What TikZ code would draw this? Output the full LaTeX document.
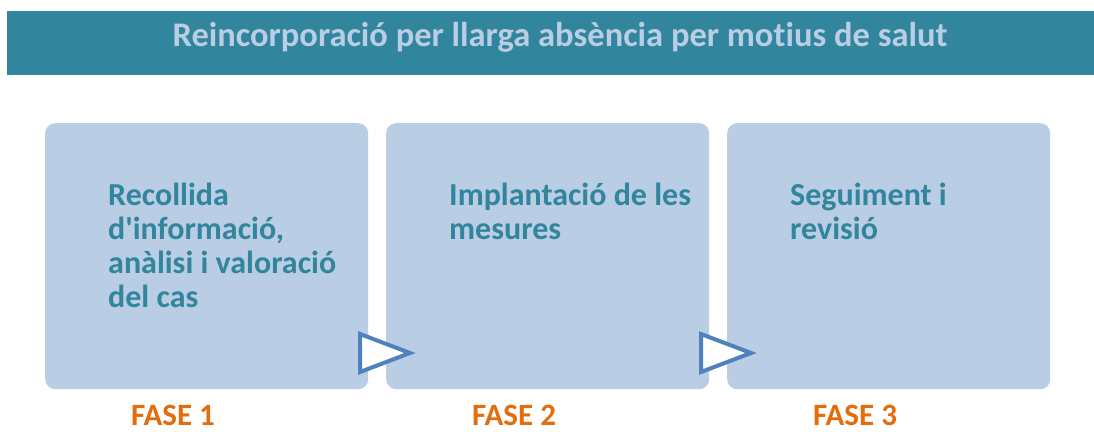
\documentclass[tikz,border=0pt]{standalone}
\usepackage{fontspec}
\setmainfont[Ligatures={NoCommon,TeXOff}]{Carlito}
\definecolor{teal}{HTML}{31859C}
\definecolor{titletext}{HTML}{B9CDE5}
\definecolor{boxfill}{HTML}{B9CDE5}
\definecolor{triblue}{HTML}{4F81BD}
\definecolor{faseorange}{HTML}{E46C0A}
\tikzset{
  phasebox/.style={fill=boxfill, draw=none, rounded corners=10pt, minimum width=323pt, minimum height=266pt, anchor=north west, inner sep=0pt},
  phasetext/.style={anchor=north west, inner sep=0pt, align=left, text=teal, font=\fontsize{32}{34}\selectfont\bfseries},
  faselabel/.style={text=faseorange, font=\fontsize{31}{36}\selectfont\bfseries, inner sep=0pt, anchor=base west, text depth=0pt},
  tri/.style={draw=triblue, fill=white, line width=4pt, line join=miter}
}
\begin{document}
\begin{tikzpicture}[x=1pt,y=-1pt]
\fill[white] (0,0) rectangle (1094,431);
\useasboundingbox (0,0) rectangle (1094,431);
\node[fill=teal, minimum width=1087pt, minimum height=64pt, anchor=north west, inner sep=0pt] (title) at (7,11) {};
\node[text=titletext, font=\fontsize{34.5}{40}\selectfont\bfseries, anchor=base] (titletxt) at (560,46.5) {Reincorporació per llarga absència per motius de salut};
\node[phasebox] (b1) at (45,123) {};
\node[phasebox] (b2) at (386,123) {};
\node[phasebox] (b3) at (727,123) {};
\node[phasetext] (t1) at (108,183) {Recollida\\d'informació,\\anàlisi i valoració\\del cas};
\node[phasetext] (t2) at (449,183) {Implantació de les\\mesures};
\node[phasetext] (t3) at (790,183) {Seguiment i\\revisió};
\node[faselabel] (f1) at (131,425) {FASE 1};
\node[faselabel] (f2) at (472,425) {FASE 2};
\node[faselabel] (f3) at (813,425) {FASE 3};
\coordinate (a1) at (360,334);
\coordinate (a1t) at (410,353);
\coordinate (a1b) at (360,372);
\coordinate (a2) at (701,334);
\coordinate (a2t) at (751,353);
\coordinate (a2b) at (701,372);
\draw[tri] (a1) -- (a1t) -- (a1b) -- cycle;
\draw[tri] (a2) -- (a2t) -- (a2b) -- cycle;
\end{tikzpicture}
\end{document}
